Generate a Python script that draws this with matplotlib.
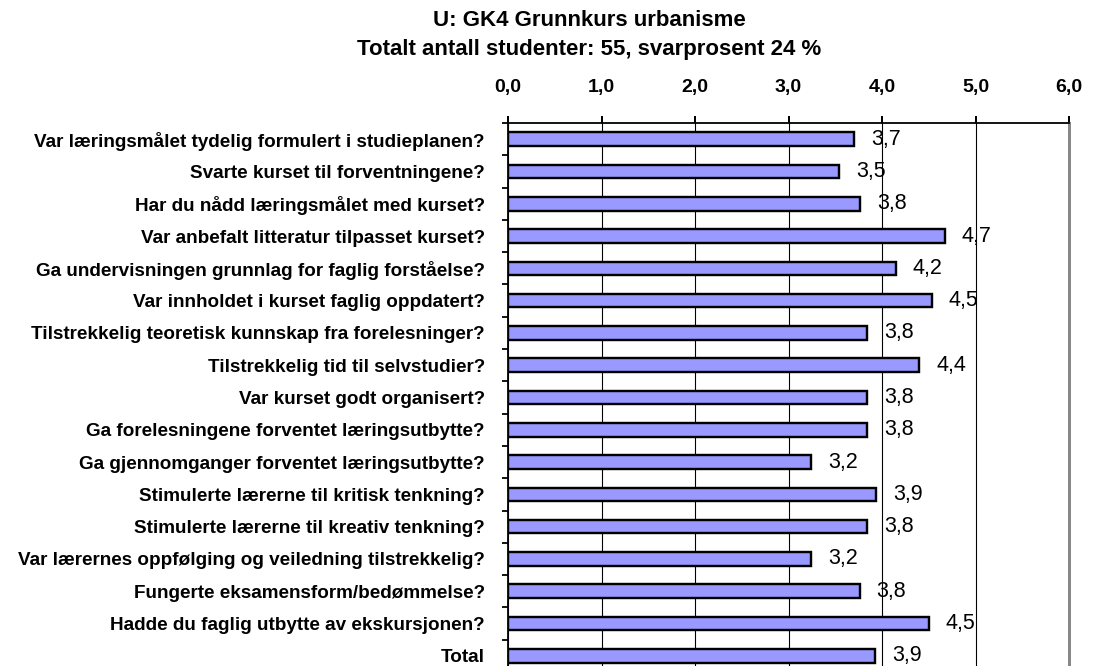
import numpy as np
import matplotlib as mpl
mpl.use('Agg')
import matplotlib.pyplot as plt

plt.rcParams['font.family'] = ['Liberation Sans', 'DejaVu Sans']

title_lines = ["U: GK4 Grunnkurs urbanisme",
               "Totalt antall studenter: 55, svarprosent 24 %"]

questions = [
    "Var læringsmålet tydelig formulert i studieplanen?",
    "Svarte kurset til forventningene?",
    "Har du nådd læringsmålet med kurset?",
    "Var anbefalt litteratur tilpasset kurset?",
    "Ga undervisningen grunnlag for faglig forståelse?",
    "Var innholdet i kurset faglig oppdatert?",
    "Tilstrekkelig teoretisk kunnskap fra forelesninger?",
    "Tilstrekkelig tid til selvstudier?",
    "Var kurset godt organisert?",
    "Ga forelesningene forventet læringsutbytte?",
    "Ga gjennomganger forventet læringsutbytte?",
    "Stimulerte lærerne til kritisk tenkning?",
    "Stimulerte lærerne til kreativ tenkning?",
    "Var lærernes oppfølging og veiledning tilstrekkelig?",
    "Fungerte eksamensform/bedømmelse?",
    "Hadde du faglig utbytte av ekskursjonen?",
    "Total",
]

scores = [3.70, 3.54, 3.77, 4.67, 4.15, 4.53, 3.84, 4.40, 3.84,
          3.84, 3.24, 3.94, 3.84, 3.24, 3.76, 4.50, 3.93]

x_ticks = [0, 1, 2, 3, 4, 5, 6]
x_tick_labels = ["0,0", "1,0", "2,0", "3,0", "4,0", "5,0", "6,0"]


def px(v):
    """pixels -> points at dpi 100"""
    return v * 72.0 / 100.0


fig = plt.figure(figsize=(10.95, 6.66), dpi=100)
# plot area: left 508, right 1069, top 123, bottom 672 (below the picture)
ax = fig.add_axes([508 / 1095, (666 - 672) / 666, 561 / 1095, 549 / 666])

ypos = np.arange(len(questions))
ax.barh(ypos, scores, height=0.42, color='#9999ff', edgecolor='black',
        linewidth=px(2.4), zorder=3)

for y, v in zip(ypos, scores):
    ax.text(v + 0.18, y, ("%.1f" % v).replace('.', ','), ha='left',
            va='center', fontsize=15.5, color='black', zorder=4)

ax.set_xlim(0, 6)
ax.set_ylim(len(questions) - 0.5, -0.5)

ax.xaxis.tick_top()
ax.set_xticks(x_ticks)
ax.set_xticklabels(x_tick_labels, fontsize=14, fontweight='bold')
ax.tick_params(axis='x', which='major', direction='out', length=px(7),
               width=px(2), pad=px(20))

ax.set_yticks(ypos)
ax.set_yticklabels(questions, fontsize=13.6, fontweight='bold')
ax.set_yticks(np.arange(len(questions) + 1) - 0.5, minor=True)
ax.tick_params(axis='y', which='major', length=0, pad=px(23))
ax.tick_params(axis='y', which='minor', direction='out', length=px(6),
               width=px(1.8))

ax.set_axisbelow(True)
ax.grid(True, axis='x', color='black', linewidth=px(1.1))

ax.spines['top'].set_linewidth(px(1.8))
ax.spines['left'].set_linewidth(px(1.8))
ax.spines['right'].set_color('#888888')
ax.spines['right'].set_linewidth(px(3))
ax.spines['bottom'].set_visible(False)

fig.text(589 / 1095, 1 - 20 / 666, title_lines[0], ha='center', va='center',
         fontsize=16, fontweight='bold')
fig.text(589 / 1095, 1 - 50 / 666, title_lines[1], ha='center', va='center',
         fontsize=16, fontweight='bold')

fig.savefig('out.png', dpi=100)
